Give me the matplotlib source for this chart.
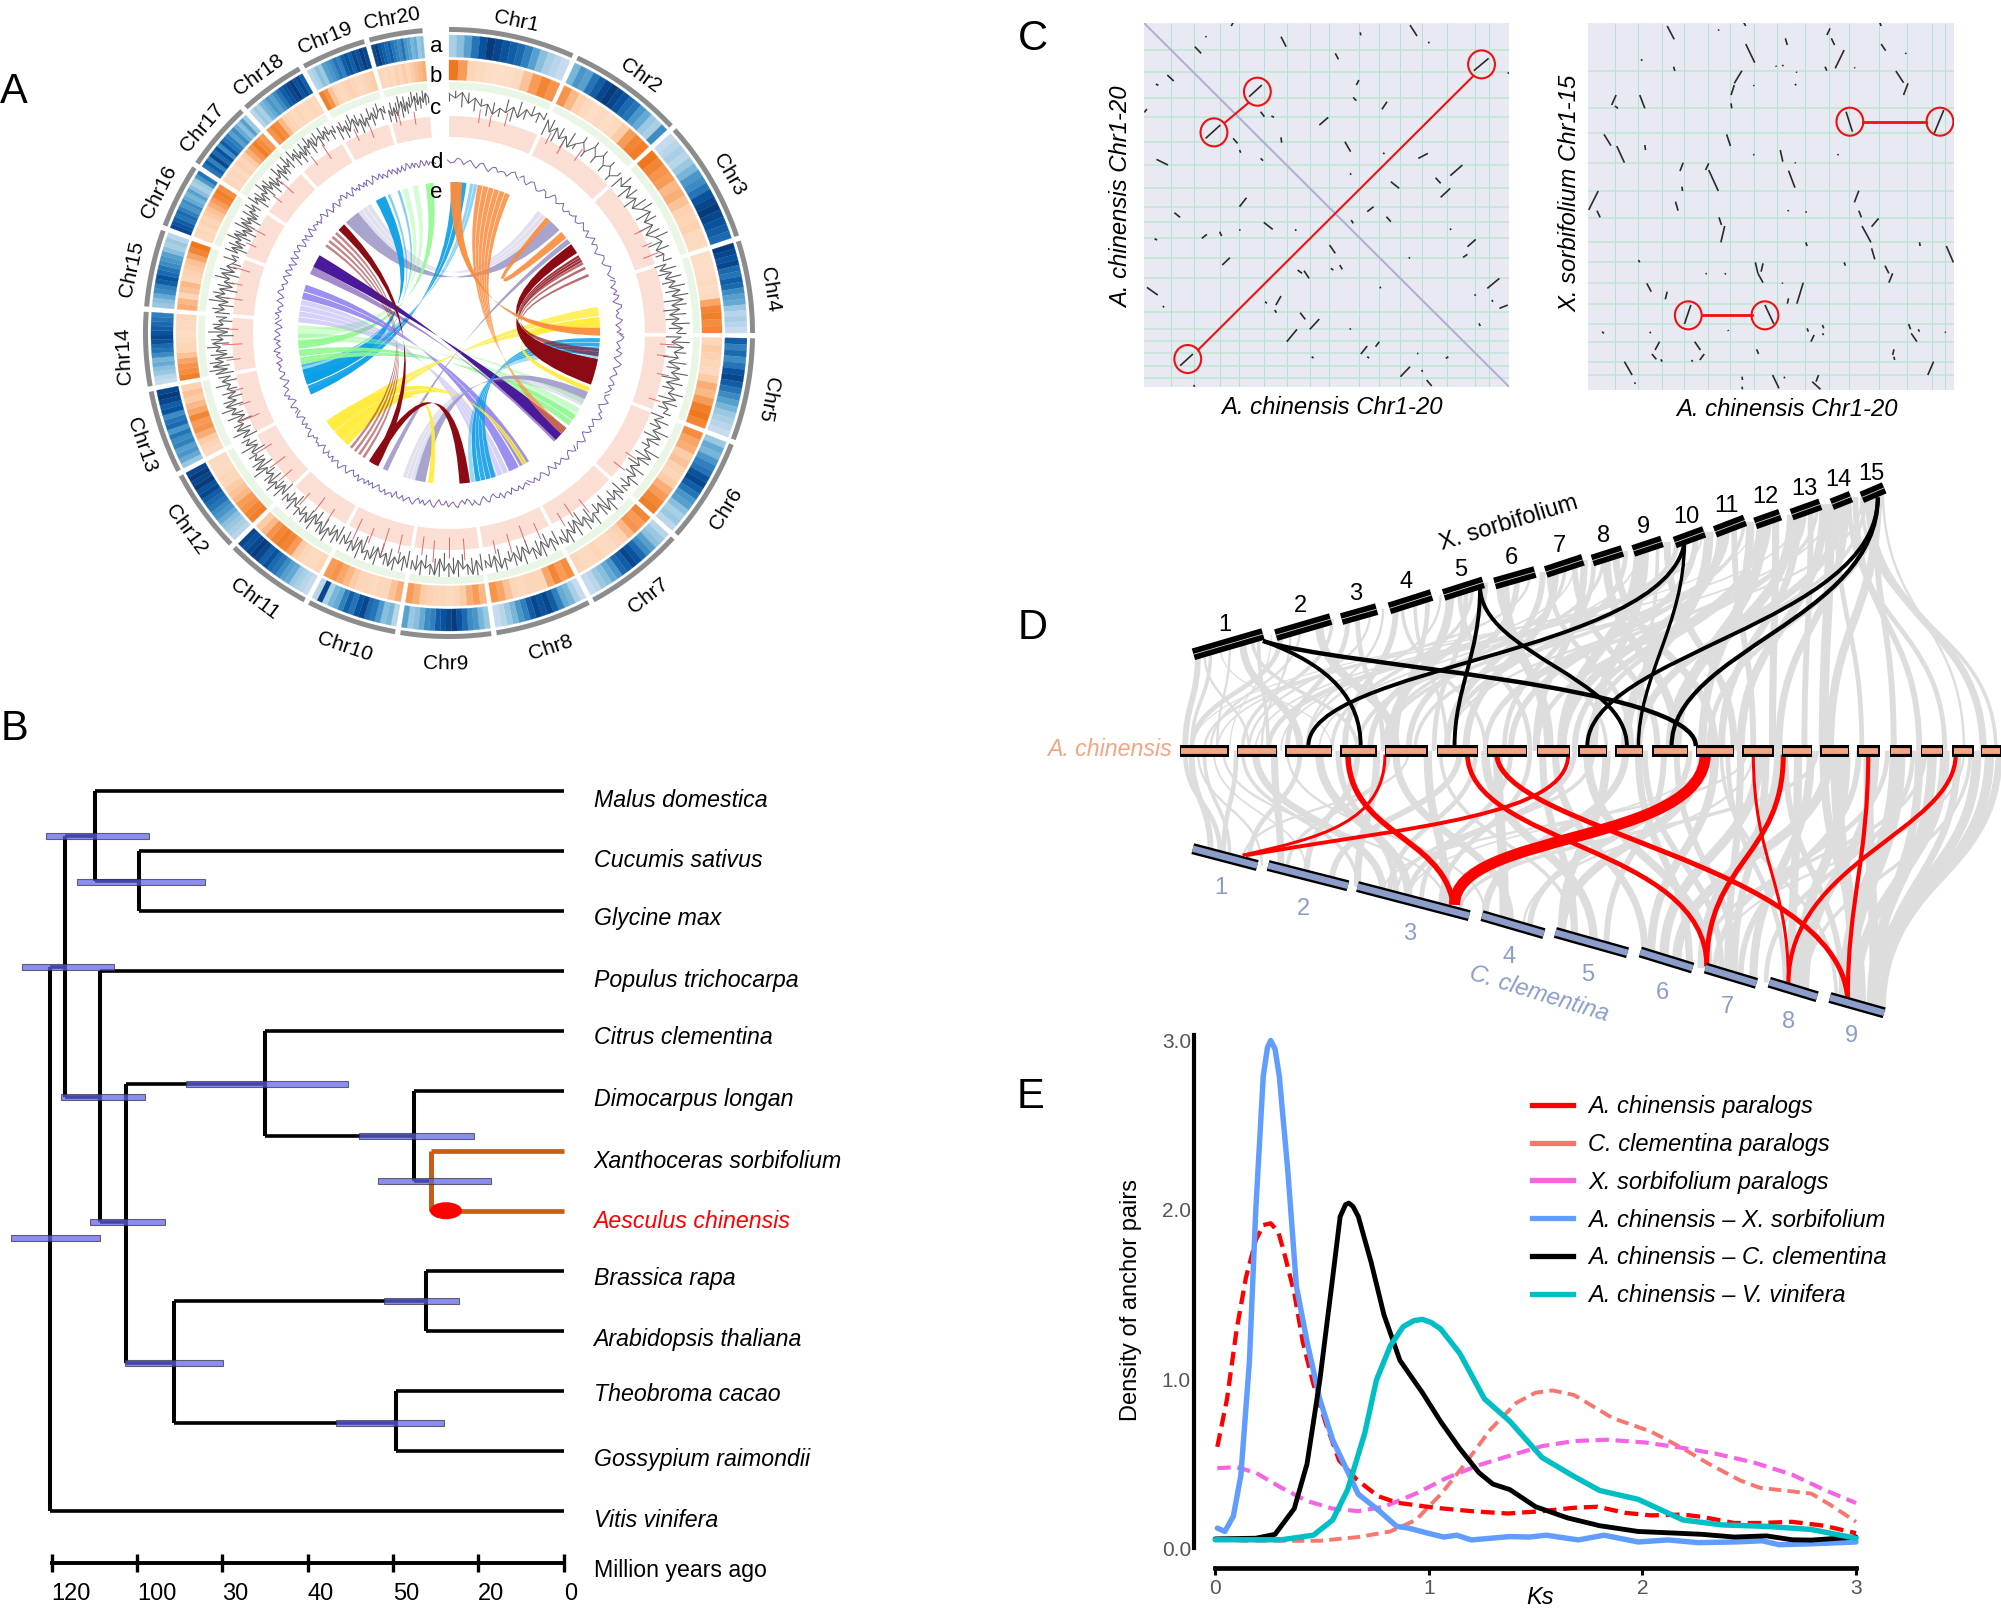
import numpy as np
import matplotlib
matplotlib.use("Agg")
import matplotlib.pyplot as plt
from matplotlib.collections import LineCollection, PolyCollection
from matplotlib.colors import LinearSegmentedColormap
from matplotlib.lines import Line2D
from matplotlib.patches import Ellipse, PathPatch, Rectangle
from matplotlib.path import Path

plt.rcParams['font.family'] = ['Liberation Sans', 'DejaVu Sans']

W, H = 2001, 1613

# ---------- panel A: circos ----------
chr_names = ["Chr%d" % i for i in range(1, 21)]
chr_start = [0, 25, 48, 72.4, 91, 111.5, 132.5, 152.6, 172, 190.2, 208.4, 226, 243, 259.9, 275, 290.7, 304, 318, 331.5, 344.8]
chr_end = [24, 47, 71.4, 90, 110.5, 131.5, 151.6, 171, 189.2, 207.4, 225, 242, 258.9, 274, 289.7, 303, 317, 330.5, 343.8, 355]

blue_ring = [
    [.25, .35, .5, .7, .85, .95, .9, .85, .8, .75, .65, .5, .35, .25, .2, .15],
    [.4, .55, .5, .7, .8, .9, .95, .9, .85, .75, .7, .55, .45, .3, .25, .6],
    [.15, .2, .25, .2, .3, .4, .55, .6, .7, .85, .9, .95, .9, .85, .8, .75],
    [.95, .9, .85, .9, .75, .7, .8, .75, .6, .5, .45, .3, .2, .25, .2, .15],
    [.8, .65, .75, .6, .7, .85, .9, .8, .7, .6, .5, .4, .3, .25, .2, .15],
    [.3, .45, .4, .55, .65, .7, .85, .9, .8, .7, .55, .5, .35, .25, .3, .2],
    [.2, .3, .35, .5, .6, .75, .85, .9, .8, .75, .55, .45, .35, .3, .2, .15],
    [.15, .25, .4, .45, .65, .8, .9, .85, .9, .8, .65, .55, .4, .3, .2, .15],
    [.3, .4, .55, .6, .75, .85, .95, .9, .85, .8, .65, .6, .45, .35, .3, .5],
    [.2, .4, .35, .55, .7, .75, .9, .85, .7, .8, .65, .45, .4, .25, .9, .2],
    [.15, .2, .25, .3, .45, .5, .6, .7, .75, .85, .8, .9, .95, .9, .85, .9],
    [.2, .25, .3, .35, .45, .55, .6, .7, .75, .8, .9, .85, .95, .9, .95, .9],
    [.3, .45, .55, .5, .65, .6, .7, .55, .75, .7, .6, .85, .8, .9, .95, .9],
    [.15, .2, .3, .35, .45, .4, .6, .7, .75, .85, .9, .85, .8, .75, .7, .65],
    [.3, .35, .45, .6, .65, .8, .85, .75, .7, .6, .55, .5, .35, .25, .3, .2],
    [.9, .85, .8, .7, .75, .65, .55, .6, .45, .4, .5, .35, .25, .3, .55, .7],
    [.7, .8, .65, .9, .75, .85, .6, .8, .7, .65, .5, .6, .45, .35, .5, .3],
    [.2, .3, .25, .4, .45, .55, .5, .6, .7, .8, .85, .9, .95, .85, .9, .8],
    [.2, .25, .35, .3, .5, .55, .6, .7, .65, .8, .85, .8, .9, .85, .95, .9],
    [.9, .95, .85, .8, .75, .8, .7, .65, .6, .7, .55, .5, .4, .45, .3, .35],
]
orange_ring = [
    [.8, .55, .2, .15, .12, .1, .12, .15, .35, .55, .7, .6],
    [.6, .4, .25, .15, .12, .15, .12, .15, .3, .55, .7, .75],
    [.8, .7, .6, .55, .4, .45, .35, .25, .2, .25, .15, .15],
    [.12, .12, .1, .12, .15, .12, .15, .5, .7, .75, .65, .7],
    [.2, .3, .25, .2, .15, .3, .45, .4, .55, .75, .8, .7],
    [.65, .5, .45, .3, .35, .25, .2, .3, .45, .55, .7, .75],
    [.7, .55, .6, .4, .25, .2, .15, .15, .2, .15, .15, .2],
    [.65, .55, .7, .5, .2, .2, .2, .15, .2, .35, .5, .6],
    [.4, .55, .45, .3, .2, .15, .2, .2, .25, .3, .45, .55],
    [.45, .35, .2, .2, .15, .2, .2, .3, .4, .5, .6, .55],
    [.2, .15, .15, .2, .3, .55, .7, .75, .7, .6, .4, .3],
    [.75, .7, .6, .55, .4, .35, .3, .2, .2, .15, .15, .15],
    [.15, .2, .3, .45, .6, .55, .7, .5, .4, .3, .35, .25],
    [.75, .65, .6, .5, .35, .2, .2, .15, .12, .15, .15, .2],
    [.45, .4, .2, .35, .4, .2, .25, .3, .35, .5, .7, .8],
    [.15, .2, .15, .25, .2, .3, .35, .45, .55, .7, .75, .65],
    [.2, .15, .2, .15, .25, .2, .3, .45, .6, .75, .65, .55],
    [.6, .7, .65, .4, .25, .2, .15, .2, .15, .15, .2, .15],
    [.75, .6, .35, .2, .15, .2, .25, .2, .15, .2, .25, .3],
    [.2, .15, .2, .15, .25, .2, .3, .2, .3, .35, .4, .45],
]
gray_track = [
    [.85, .7, .9, .55, .75, .5, .6, .3, .55, .45, .7, .4, .75, .6, .8, .65],
    [.7, .35, .6, .3, .5, .2, .45, .65, .4, .75, .5, .7, .45, .6, .35, .55],
    [.6, .4, .65, .3, .55, .25, .5, .7, .35, .55, .2, .45, .6, .3, .5, .4],
    [.45, .2, .55, .3, .6, .35, .7, .4, .75, .35, .6, .25, .55, .3, .65, .45],
    [.6, .3, .7, .4, .55, .25, .65, .4, .7, .3, .6, .45, .75, .35, .6, .5],
    [.55, .3, .6, .4, .75, .35, .55, .45, .8, .4, .6, .35, .7, .5, .75, .55],
    [.75, .45, .7, .5, .85, .4, .65, .55, .8, .45, .7, .35, .75, .5, .9, .6],
    [.8, .5, .75, .45, .9, .55, .7, .4, .85, .5, .75, .6, .9, .45, .8, .55],
    [.85, .5, .95, .6, .75, .45, .9, .55, .8, .4, .95, .6, .75, .5, .85, .55],
    [.8, .45, .75, .55, .9, .5, .7, .4, .85, .6, .75, .35, .8, .5, .7, .45],
    [.75, .4, .7, .5, .85, .45, .65, .35, .8, .5, .7, .55, .6, .35, .65, .45],
    [.6, .3, .65, .45, .7, .35, .55, .4, .75, .3, .6, .45, .55, .25, .6, .4],
    [.55, .25, .65, .35, .5, .2, .6, .4, .7, .3, .55, .25, .5, .35, .6, .3],
    [.75, .35, .8, .45, .7, .3, .65, .5, .75, .4, .6, .25, .7, .4, .55, .3],
    [.7, .4, .6, .3, .75, .45, .65, .25, .55, .4, .7, .3, .6, .45, .35, .55],
    [.4, .65, .3, .6, .45, .75, .35, .55, .25, .7, .4, .6, .3, .65, .5, .7],
    [.55, .75, .4, .65, .5, .8, .45, .7, .35, .6, .5, .75, .45, .7, .55, .8],
    [.6, .8, .5, .7, .45, .75, .6, .85, .5, .65, .75, .55, .8, .6, .7, .55],
    [.7, .45, .6, .35, .55, .7, .4, .6, .3, .55, .45, .65, .4, .6, .7, .5],
    [.55, .35, .6, .3, .55, .75, .4, .7, .5, .65, .85, .55, .8, .6, .9, .75],
]
# far end of the short spikes on the same track
gray_track_b = [
    [.6, .95, .4, .9, .3, .75, .2, .7, .25, .9, .2, .95, .4, .95, .45, .9],
    [.15, .8, .1, .7, .05, .75, .25, .85, .2, .95, .25, .9, .2, .8, .15, .7],
    [.15, .85, .1, .75, .05, .8, .9, .15, .8, .05, .7, .9, .1, .75, .2, .7],
    [.05, .75, .1, .85, .15, .9, .2, .95, .1, .85, .05, .8, .1, .9, .2, .75],
    [.1, .9, .15, .8, .05, .85, .2, .95, .1, .85, .2, .95, .15, .85, .25, .75],
    [.1, .8, .2, .95, .15, .8, .25, 1, .2, .85, .15, .9, .3, .95, .35, .8],
    [.25, .9, .3, 1, .2, .9, .3, 1, .25, .95, .15, .95, .3, 1, .4, .85],
    [.3, .95, .25, 1, .35, .95, .2, 1, .3, .95, .4, 1, .25, 1, .35, .8],
    [.3, 1, .4, .95, .25, 1, .35, 1, .2, 1, .4, .95, .3, 1, .35, .85],
    [.25, .95, .35, 1, .3, .9, .2, 1, .4, .95, .15, 1, .3, .9, .25, .8],
    [.2, .9, .3, 1, .25, .85, .15, .95, .3, .9, .35, .85, .15, .85, .25, .75],
    [.1, .85, .25, .9, .15, .75, .2, .95, .1, .8, .25, .75, .05, .85, .2, .7],
    [.05, .85, .15, .7, 0, .8, .2, .9, .1, .75, .05, .7, .15, .85, .1, .7],
    [.15, .95, .25, .9, .1, .85, .3, .95, .2, .8, .05, .9, .2, .75, .1, .65],
    [.2, .8, .1, .95, .25, .85, .05, .75, .2, .9, .1, .8, .25, .15, .8, .3],
    [.85, .1, .8, .25, .95, .15, .75, .05, .9, .2, .8, .1, .85, .3, .9, .35],
    [.95, .2, .85, .3, 1, .25, .9, .15, .8, .3, .95, .25, .9, .35, 1, .4],
    [1, .3, .9, .25, .95, .4, 1, .3, .85, .95, .35, 1, .4, .9, .35, .8],
    [.2, .8, .15, .75, .9, .2, .8, .1, .75, .25, .85, .2, .8, .9, .3, .75],
    [.15, .8, .1, .75, .95, .2, .9, .3, .85, 1, .35, .95, .4, 1, .5, .55],
]
purple_track = [
    [173, 171, 174, 172, 170, 172, 169, 171, 168, 170, 172, 170],
    [171, 169, 172, 170, 168, 171, 169, 172, 170, 168, 171, 170],
    [172, 169, 171, 173, 170, 168, 171, 169, 172, 170, 173, 171],
    [170, 173, 171, 169, 172, 170, 174, 171, 169, 172, 170, 168],
    [171, 173, 170, 168, 172, 170, 173, 171, 169, 171, 168, 170],
    [172, 169, 171, 168, 170, 173, 170, 168, 171, 169, 172, 170],
    [168, 171, 169, 172, 170, 167, 170, 172, 169, 171, 168, 170],
    [172, 170, 168, 171, 173, 170, 168, 171, 169, 172, 170, 173],
    [171, 169, 172, 170, 173, 171, 168, 172, 170, 173, 171, 169],
    [172, 170, 173, 171, 169, 172, 174, 171, 169, 172, 170, 168],
    [171, 173, 170, 168, 171, 169, 172, 170, 173, 171, 169, 172],
    [170, 172, 169, 171, 168, 170, 173, 170, 168, 171, 169, 172],
    [173, 170, 172, 169, 171, 174, 171, 169, 172, 170, 173, 171],
    [172, 169, 173, 170, 174, 171, 169, 173, 170, 172, 169, 171],
    [174, 171, 169, 172, 170, 173, 171, 175, 172, 170, 173, 171],
    [170, 173, 171, 169, 172, 170, 173, 171, 174, 171, 169, 172],
    [171, 169, 172, 170, 173, 170, 168, 171, 173, 170, 172, 169],
    [170, 172, 169, 171, 174, 171, 169, 172, 170, 168, 171, 173],
    [170, 172, 169, 173, 171, 168, 170, 172, 169, 171, 173, 170],
    [172, 170, 173, 171, 169, 172, 170, 173, 171, 169, 172, 171],
]
purple_track_b = [
    [170, 175, 169, 174, 167, 173, 166, 172, 170, 167, 174, 168],
    [174, 167, 173, 167, 172, 166, 174, 168, 173, 167, 169, 173],
    [168, 174, 169, 167, 174, 172, 166, 173, 168, 175, 169, 174],
    [174, 168, 173, 174, 167, 175, 169, 168, 174, 167, 172, 174],
    [175, 168, 172, 174, 167, 175, 168, 173, 167, 173, 172, 167],
    [168, 174, 166, 172, 175, 167, 172, 173, 166, 174, 168, 173],
    [173, 167, 174, 168, 172, 173, 166, 174, 167, 173, 172, 167],
    [168, 173, 172, 167, 169, 174, 172, 167, 174, 167, 175, 169],
    [174, 167, 168, 175, 169, 174, 172, 167, 175, 168, 174, 173],
    [168, 175, 169, 174, 173, 167, 170, 174, 173, 167, 173, 172],
    [168, 169, 174, 172, 167, 174, 168, 175, 169, 174, 173, 168],
    [174, 167, 173, 172, 171, 175, 168, 172, 173, 167, 174, 168],
    [169, 175, 167, 174, 176, 170, 174, 167, 175, 169, 174, 173],
    [175, 170, 174, 176, 169, 173, 175, 169, 174, 167, 174, 168],
    [171, 175, 173, 168, 175, 169, 176, 171, 174, 169, 175, 168],
    [175, 169, 174, 167, 175, 168, 175, 170, 175, 167, 174, 168],
    [174, 167, 175, 168, 172, 173, 171, 175, 168, 174, 167, 172],
    [174, 167, 173, 175, 169, 174, 167, 175, 172, 174, 169, 168],
    [174, 167, 175, 169, 174, 172, 167, 174, 173, 167, 168, 174],
    [168, 175, 169, 174, 173, 168, 175, 169, 174, 172, 169, 170],
]
red_spike_angle = [8, 11, 15, 27, 31, 36, 62, 66, 69, 93, 96, 101, 108, 124, 128, 142, 146, 149,
                   156, 160, 164, 168, 176, 180, 184, 187, 193, 197, 201, 205, 213, 217, 221, 229,
                   233, 238, 247, 251, 255, 263, 267, 271, 279, 283, 287, 294, 298, 308, 312, 322,
                   326, 335, 339, 347, 351]
red_spike_base = [212, 210, 214, 212, 209, 213, 210, 212, 208, 211, 209, 212, 210, 213, 209, 211, 206, 210,
                  208, 205, 209, 212, 206, 204, 208, 205, 207, 204, 209, 205, 210, 206, 212, 208,
                  205, 209, 206, 210, 213, 210, 207, 211, 209, 212, 208, 211, 208, 212, 209, 213,
                  210, 212, 209, 213, 211]
red_spike_top = [226, 222, 228, 225, 222, 227, 224, 222, 224, 226, 221, 224, 222, 226, 223, 228, 222, 225,
                 226, 224, 229, 226, 228, 225, 230, 224, 226, 229, 225, 228, 227, 224, 228, 226,
                 224, 228, 226, 222, 226, 224, 227, 222, 225, 223, 226, 222, 225, 223, 226, 224,
                 227, 225, 222, 226, 224]

# ribbons: (start of a, end of a, start of b, end of b), colour, opacity, strands
ribbon_ends = [
    (323, 329, 36, 42), (317, 323, 42, 47),
    (340, 341, 257, 258), (336, 337, 246, 248), (331, 335, 250, 256),
    (8, 11, 254, 258), (1, 7, 246, 254),
    (342, 344, 268, 270), (346, 348, 270, 272), (351, 354, 264, 267),
    (266, 270, 120, 125), (272, 273, 116, 118), (258, 264, 123, 128),
    (274, 283, 157, 166), (283, 289, 148, 157),
    (293, 296, 134, 136), (296, 301, 129, 135),
    (193, 198, 116, 119), (189, 193, 113, 116), (204, 206, 51.5, 53.5),
    (99, 102, 168, 172), (92, 99, 162, 170),
    (224, 235, 149, 151), (226, 234, 80, 88), (186, 188, 222, 224), (111, 113, 84, 88),
    (305, 306, 214, 215), (307, 308, 216, 217), (309, 310, 218, 219), (311, 312, 220, 221),
    (313, 316, 208, 211), (209, 212, 172, 176),
    (54, 58, 100, 110), (59, 62, 100, 104), (62, 63, 98, 99), (64, 65, 97, 98), (67, 68, 96, 97),
    (0.5, 5, 88, 91), (11, 24, 129, 132), (40, 42, 48, 51),
]
ribbon_colors = [
    "lav", "lav", "sky", "sky", "sky", "sky", "sky",
    "grn", "grn", "grn", "grn", "grn", "grn",
    "vio", "vio", "ind", "ind", "lav", "lav", "lav",
    "sky", "sky", "yel", "yel", "yel", "yel",
    "red", "red", "red", "red", "red", "red", "red", "red", "red", "red", "red",
    "org", "org", "org",
]
ribbon_alpha = [
    .3, .9, .5, .5, .95, .45, .9,
    .4, .4, .9, .5, .4, .9,
    .35, .85, .5, 1, .3, .9, .9,
    .4, .85, .9, .8, .95, .9,
    .5, .5, .5, .5, 1, 1, 1, .85, .6, .6, .6,
    .95, .85, .9,
]
ribbon_strands = [
    3, 1, 1, 1, 1, 2, 2,
    1, 1, 1, 2, 1, 2,
    4, 2, 1, 1, 3, 1, 1,
    2, 4, 2, 2, 1, 1,
    1, 1, 1, 1, 1, 1, 1, 3, 1, 1, 1,
    1, 6, 1,
]
palette = {"lav": "#9e9ac8", "sky": "#0a9fe6", "grn": "#90f890", "vio": "#8a7cf0", "ind": "#4a1a9a",
           "yel": "#ffec3c", "red": "#8b0a14", "org": "#fb8c3c"}

ring_letters = ["a", "b", "c", "d", "e"]
ring_letter_r = [287, 257, 225, 171, 141]

# ---------- panel B: tree ----------
species = ["Malus domestica", "Cucumis sativus", "Glycine max", "Populus trichocarpa", "Citrus clementina",
           "Dimocarpus longan", "Xanthoceras sorbifolium", "Aesculus chinensis", "Brassica rapa",
           "Arabidopsis thaliana", "Theobroma cacao", "Gossypium raimondii", "Vitis vinifera"]
species_row = [.16, 1.17, 2.13, 3.17, 4.11, 5.14, 6.18, 7.18, 8.13, 9.15, 10.07, 11.14, 12.16]
# horizontal branches: row, old age, young age
branch_row = [0, 1, 2, 3, 4, 5, 8, 9, 10, 11, 12, .75, 1.5, 5.1, 7.19, 4.89, 5.75, 6.5, 9.53, 8.5, 10.53, 2.93]
branch_old = [109.9, 99.6, 99.6, 108.6, 70.1, 35.1, 32.2, 32.2, 39.4, 39.4, 120.3, 116.9, 109.9, 116.9, 108.6,
              102.6, 70.1, 35.1, 102.6, 91.3, 91.3, 120.3]
branch_young = [0, 0, 0, 0, 0, 0, 0, 0, 0, 0, 0, 109.9, 99.6, 108.6, 102.6, 70.1, 35.1, 31.2, 91.3, 32.2, 39.4, 116.9]
# vertical branches: age, top row, bottom row
node_age = [109.9, 99.6, 116.9, 108.6, 102.6, 70.1, 35.1, 91.3, 32.2, 39.4, 120.3]
node_top = [0, 1, .75, 3, 4.89, 4, 5, 8.5, 8, 10, 2.93]
node_bottom = [1.5, 2, 5.1, 7.19, 9.53, 5.75, 6.5, 10.53, 9, 11, 12]
# the two highlighted tips
hl_age = 31.2
hl_rows = [6, 7]
marker_age = 27.6
# age intervals
ci_row = [.75, 1.52, 2.93, 5.10, 4.895, 5.76, 6.5, 7.19, 7.46, 8.5, 9.53, 10.53]
ci_old = [121.4, 114, 127, 117.7, 88.4, 48, 43.6, 110.9, 129.6, 42, 102.8, 53.4]
ci_young = [97.1, 84.1, 105.5, 98.2, 50.5, 21, 17, 93.4, 108.6, 24.5, 79.9, 28]
age_ticks = [120, 100, 80, 60, 40, 20, 0]
age_tick_labels = ["120", "100", "30", "40", "50", "20", "0"]

# ---------- panel C: dot plots (positions along concatenated chromosomes) ----------
dot1_v = [267, 303, 344, 375, 413, 449, 485, 515, 562, 594, 627, 660, 700, 743, 765]
dot1_h = [150, 217, 293, 352, 426, 495, 565, 620, 667, 715, 773, 835, 937, 986, 1023, 1060, 1099, 1133]
dot1_blocks = [
    (362, 78, 365, 68), (305, 140, 315, 160), (440, 110, 448, 140), (642, 75, 653, 108), (525, 160, 530, 178),
    (262, 225, 272, 243), (558, 255, 562, 240), (553, 292, 558, 302), (598, 328, 606, 305), (226, 337, 230, 327),
    (408, 335, 414, 350), (425, 348, 429, 352), (500, 375, 514, 352), (540, 425, 549, 455), (245, 478, 263, 495),
    (655, 475, 670, 460), (705, 527, 724, 495), (612, 545, 625, 565), (682, 533, 690, 550), (690, 592, 705, 565),
    (375, 620, 386, 593), (273, 638, 282, 652), (575, 635, 585, 620), (413, 667, 427, 688), (316, 715, 324, 703),
    (344, 695, 347, 708), (732, 740, 745, 718), (725, 772, 732, 763), (516, 735, 525, 760), (348, 795, 360, 773),
    (466, 810, 473, 820), (476, 812, 484, 835), (532, 795, 536, 808), (230, 862, 247, 885), (763, 865, 782, 835),
    (432, 915, 440, 888), (470, 938, 478, 958), (485, 988, 500, 957), (449, 1025, 465, 988), (565, 1062, 575, 1038),
    (588, 1040, 594, 1025), (627, 1130, 642, 1100), (668, 1140, 676, 1158), (605, 650, 612, 665), (550, 660, 553, 670),
    (415, 905, 418, 910), (430, 930, 433, 938), (782, 925, 795, 915), (698, 1075, 702, 1070), (488, 1070, 491, 1074),
    (653, 1060, 655, 1061), (518, 805, 522, 810), (365, 415, 372, 430), (322, 108, 323, 112), (244, 252, 248, 256),
    (564, 97, 565, 106), (671, 125, 672, 130), (795, 217, 797, 221), (408, 475, 412, 482), (440, 412, 441, 428),
    (375, 450, 377, 458), (242, 716, 246, 720), (548, 520, 550, 524), (600, 458, 602, 462), (375, 688, 376, 692),
    (462, 688, 464, 692), (705, 685, 706, 690), (640, 772, 642, 775), (595, 860, 596, 865), (255, 918, 257, 922),
    (743, 883, 745, 887), (770, 900, 772, 905), (750, 970, 752, 978), (548, 985, 549, 989), (303, 1155, 305, 1160),
    (575, 1070, 578, 1074), (660, 1110, 662, 1115),
    (282, 1097, 302, 1062), (322, 415, 345, 375), (390, 290, 410, 255), (742, 212, 765, 175),
]
dot1_ring_x = [294, 335, 403, 754]
dot1_ring_y = [1077, 397, 275, 193]
dot1_link = [(310, 1050, 740, 230), (352, 368, 388, 310)]

dot2_v = [964, 1000, 1037, 1071, 1109, 1143, 1181, 1217, 1260, 1298, 1330, 1377, 1420, 1460, 1480]
dot2_h = [213, 325, 398, 488, 573, 653, 727, 787, 848, 911, 973, 1025, 1085, 1125]
dot2_blocks = [
    (1045, 78, 1056, 118), (1165, 68, 1168, 78), (1125, 88, 1126, 92), (1230, 115, 1233, 135), (1295, 105, 1300, 85),
    (1302, 115, 1307, 135), (1378, 68, 1380, 78), (1380, 132, 1387, 152), (1168, 132, 1182, 188), (1322, 150, 1308, 205),
    (1292, 200, 1295, 212), (1055, 200, 1057, 213), (1004, 178, 1006, 182), (1150, 250, 1162, 212), (1145, 285, 1150, 255),
    (1403, 213, 1415, 248), (1415, 285, 1422, 250), (958, 315, 965, 285), (1002, 285, 1010, 325), (963, 318, 968, 325),
    (1145, 310, 1146, 325), (946, 403, 957, 437), (966, 438, 978, 488), (1010, 435, 1011, 450), (1138, 403, 1144, 438),
    (1222, 450, 1226, 485), (1065, 513, 1070, 488), (1105, 510, 1110, 490), (1110, 510, 1125, 573), (1235, 512, 1245, 563),
    (922, 630, 937, 573), (935, 632, 940, 652), (1068, 560, 1069, 573), (1058, 605, 1062, 632), (1345, 572, 1338, 607),
    (1345, 632, 1349, 652), (1365, 680, 1376, 655), (1126, 652, 1130, 675), (1135, 678, 1129, 727), (1350, 678, 1364, 727),
    (1262, 727, 1264, 738), (1440, 727, 1441, 738), (1482, 738, 1493, 787), (1365, 745, 1370, 778), (1000, 780, 1002, 787),
    (1322, 787, 1324, 797), (1183, 787, 1187, 820), (1195, 790, 1192, 815), (1187, 820, 1195, 848), (1386, 797, 1392, 820),
    (1398, 820, 1392, 848), (1013, 850, 1020, 875), (1045, 875, 1042, 898), (1258, 848, 1248, 911), (1235, 895, 1233, 911),
    (943, 995, 946, 1000), (1018, 995, 1019, 1000), (1264, 985, 1266, 995), (1270, 1025, 1275, 1005), (1288, 975, 1290, 985),
    (1288, 1000, 1290, 1005), (1423, 972, 1426, 988), (1427, 1000, 1436, 1025), (1438, 988, 1440, 995), (1033, 1025, 1026, 1050),
    (1088, 1025, 1097, 1050), (1021, 1062, 1028, 1078), (1035, 1078, 1037, 1085), (1103, 1062, 1096, 1080), (1083, 1080, 1085, 1085),
    (1185, 1048, 1188, 1062), (1400, 1048, 1398, 1065), (1400, 1070, 1401, 1080), (978, 1085, 990, 1125), (1462, 1085, 1453, 1125),
    (1162, 1130, 1163, 1140), (1210, 1125, 1220, 1165), (1228, 1130, 1229, 1135), (1282, 1125, 1278, 1145), (1272, 1145, 1285, 1168),
    (1162, 1160, 1163, 1168), (994, 1147, 995, 1152), (1105, 820, 1107, 822), (1135, 820, 1137, 823), (1234, 630, 1235, 634),
    (1262, 634, 1263, 638), (1180, 462, 1181, 466), (1312, 462, 1313, 466), (1245, 487, 1246, 490), (1225, 195, 1227, 198),
    (1215, 197, 1216, 200), (1338, 202, 1339, 205), (1418, 158, 1419, 162), (1247, 215, 1248, 218), (1245, 252, 1247, 256),
    (1180, 255, 1181, 258), (1140, 990, 1141, 993), (1480, 995, 1481, 998), (1225, 848, 1226, 851),
    (1325, 335, 1335, 395), (1463, 400, 1478, 330), (1072, 972, 1082, 915), (1198, 915, 1212, 972),
]
dot2_ring_x = [1331, 1472, 1078, 1198]
dot2_ring_y = [365, 365, 946, 946]
dot2_link = [(1352, 366, 1450, 366), (1100, 946, 1178, 946)]

# ---------- panel D: synteny ----------
xs_bars = [(303, 560, 412, 507), (432, 510, 518, 468), (535, 468, 590, 442), (610, 440, 676, 405), (695, 405, 757, 372),
           (775, 375, 838, 345), (855, 345, 913, 313), (928, 315, 975, 290), (992, 290, 1037, 265), (1057, 268, 1103, 240),
           (1120, 240, 1167, 210), (1183, 218, 1222, 195), (1240, 195, 1285, 168), (1303, 168, 1333, 148), (1350, 150, 1385, 125)]
xs_label_x = [352, 470, 557, 636, 721, 801, 877, 945, 1008, 1075, 1138, 1199, 1260, 1313, 1365]
xs_label_y = [483, 435, 402, 372, 340, 308, 277, 250, 228, 200, 172, 150, 127, 105, 88]
ac_start = [282, 371, 447, 533, 603, 684, 763, 841, 906, 964, 1022, 1090, 1163, 1225, 1285, 1343, 1394, 1443, 1492, 1536]
ac_end = [358, 434, 520, 590, 670, 749, 826, 893, 951, 1007, 1078, 1150, 1212, 1272, 1330, 1378, 1428, 1477, 1525, 1568]
cc_bars = [(302, 1068, 403, 1112), (420, 1112, 545, 1165), (560, 1167, 735, 1243), (755, 1243, 852, 1290), (870, 1287, 983, 1340),
           (1003, 1338, 1085, 1380), (1105, 1380, 1185, 1420), (1205, 1417, 1280, 1455), (1300, 1457, 1385, 1497)]
cc_label_x = [346, 476, 642, 797, 921, 1038, 1139, 1236, 1333]
cc_label_y = [1172, 1225, 1290, 1352, 1397, 1445, 1482, 1522, 1557]
# gray links: x on X. sorbifolium, x on A. chinensis, width
gray_top = [(310, 290, 5), (330, 300, 3), (360, 340, 2), (380, 470, 6), (405, 420, 3), (440, 300, 4), (470, 330, 2), (500, 620, 7),
            (545, 450, 4), (580, 390, 2), (620, 540, 5), (650, 700, 3), (705, 610, 7), (720, 830, 4), (740, 520, 3), (790, 860, 8),
            (810, 640, 5), (830, 320, 2), (870, 730, 6), (900, 1030, 5), (930, 790, 4), (945, 560, 3), (965, 1120, 6), (1010, 930, 7),
            (1030, 1000, 3), (1060, 420, 4), (1090, 800, 5), (1130, 880, 7), (1150, 1180, 5), (1165, 650, 3), (1195, 1060, 8),
            (1205, 920, 4), (1250, 1130, 6), (1270, 1260, 5), (1280, 760, 3), (1310, 1350, 4), (1320, 1000, 6), (1330, 1480, 4),
            (1360, 1540, 6), (1370, 1400, 5), (1380, 1110, 4), (1350, 1560, 3),
            (320, 390, 2), (345, 520, 1), (395, 560, 3), (425, 360, 1), (455, 410, 2), (520, 380, 3), (560, 600, 4), (600, 480, 2),
            (630, 760, 3), (670, 620, 4), (690, 480, 2), (730, 680, 4), (760, 580, 5), (780, 950, 3), (850, 700, 5), (860, 990, 4),
            (885, 600, 3), (915, 840, 6), (950, 1060, 7), (980, 700, 4), (1000, 880, 8), (1045, 1150, 6), (1075, 600, 3), (1110, 980, 8),
            (1140, 760, 4), (1175, 1100, 7), (1190, 900, 5), (1215, 1210, 6), (1240, 1050, 8), (1260, 840, 4), (1290, 1160, 7),
            (1300, 1290, 8), (1325, 1220, 6), (1340, 1440, 5), (1355, 1000, 3), (1375, 1300, 7), (1383, 1510, 2), (1350, 700, 2),
            (1300, 560, 1.5), (1250, 400, 1.5), (1180, 300, 1), (1100, 340, 1.5), (1000, 500, 1.5), (900, 440, 1.5)]
# gray links: x on A. chinensis, x on C. clementina, width
gray_bottom = [(300, 330, 5), (320, 360, 3), (350, 700, 2), (400, 600, 6), (470, 390, 4), (500, 640, 7), (560, 480, 5), (640, 380, 2),
               (620, 800, 6), (720, 520, 5), (760, 930, 7), (800, 660, 4), (870, 1010, 6), (930, 620, 3), (920, 1110, 7), (980, 760, 6),
               (1010, 1130, 5), (1040, 950, 5), (1100, 880, 7), (1130, 1310, 3), (1190, 1040, 8), (1200, 1150, 6), (1250, 1240, 7),
               (1300, 1060, 8), (1310, 1340, 10), (1345, 1160, 5), (1370, 1260, 8), (1410, 1330, 9), (1460, 1365, 8), (1500, 1375, 6),
               (1550, 1380, 8), (1450, 1100, 3), (1520, 1260, 3), (1280, 720, 3), (1170, 600, 2),
               (290, 345, 4), (310, 410, 2), (335, 480, 1.5), (370, 350, 4), (380, 560, 3), (430, 440, 6), (450, 760, 2), (530, 620, 5),
               (590, 560, 6), (610, 450, 3), (670, 700, 7), (690, 900, 3), (745, 610, 4), (780, 790, 8), (830, 690, 4), (850, 900, 6),
               (900, 640, 4), (950, 880, 7), (1000, 1080, 6), (1060, 1150, 5), (1080, 830, 5), (1120, 1020, 7), (1140, 1230, 4),
               (1160, 1140, 6), (1220, 1100, 8), (1230, 1320, 5), (1270, 1180, 7), (1290, 1350, 7), (1325, 1250, 8), (1360, 1370, 8),
               (1390, 1120, 4), (1400, 1320, 7), (1430, 1200, 4), (1440, 1372, 7), (1480, 1340, 8), (1530, 1370, 8), (1565, 1375, 6),
               (1510, 1120, 2), (1180, 820, 2), (1110, 640, 1.5)]
# highlighted links: start, handle, handle, end
black_links = [
    [(412, 525), (520, 590), (565, 680), (565, 800)],
    [(412, 525), (520, 590), (1090, 640), (1090, 800)],
    [(752, 385), (752, 560), (712, 650), (712, 800)],
    [(752, 385), (755, 560), (982, 620), (982, 800)],
    [(1072, 270), (1040, 560), (483, 590), (483, 800)],
    [(1072, 270), (1072, 480), (1000, 620), (1000, 800)],
    [(1375, 150), (1375, 480), (920, 560), (920, 800)],
    [(1375, 150), (1375, 470), (1052, 550), (1052, 800)],
]
red_links = [
    [(545, 818), (545, 1030), (690, 1030), (710, 1210)],
    [(603, 822), (603, 1000), (500, 1040), (380, 1085)],
    [(890, 822), (890, 980), (650, 1010), (385, 1085)],
    [(732, 818), (732, 1060), (1107, 1060), (1107, 1375)],
    [(778, 818), (778, 1020), (1310, 1100), (1328, 1460)],
    [(1105, 818), (1105, 1060), (712, 1020), (712, 1215)],
    [(1180, 818), (1180, 1100), (1235, 1150), (1235, 1420)],
    [(1227, 822), (1227, 1090), (1107, 1100), (1107, 1375)],
    [(1360, 818), (1360, 1100), (1328, 1200), (1328, 1460)],
    [(1497, 822), (1497, 1020), (1235, 1100), (1235, 1420)],
]
red_link_width = [4, 2.2, 2.8, 3.4, 3.6, 8, 2.2, 3.6, 3, 3]
black_link_width = [2.8, 3.2, 2.8, 2.8, 2.8, 2.4, 2.8, 3]

# ---------- panel E: Ks density ----------
ks_red = [.01, .055, .10, .144, .19, .225, .26, .295, .32, .37, .41, .46, .52, .58, .66, .76, .85, 1.03, 1.20, 1.37, 1.53, 1.68, 1.79, 1.92, 2.04, 2.19, 2.28, 2.43, 2.55, 2.70, 2.85, 3.0]
d_red = [.60, .88, 1.29, 1.60, 1.82, 1.91, 1.92, 1.87, 1.76, 1.51, 1.22, .97, .73, .52, .41, .31, .27, .24, .22, .206, .22, .24, .246, .21, .195, .20, .186, .15, .15, .157, .134, .09]
ks_salmon = [.01, .13, .49, .67, .82, .94, 1.06, 1.17, 1.29, 1.41, 1.50, 1.58, 1.68, 1.86, 2.04, 2.19, 2.31, 2.46, 2.55, 2.79, 2.88, 3.0]
d_salmon = [.056, .045, .045, .067, .10, .168, .325, .50, .705, .86, .92, .933, .906, .77, .69, .59, .50, .40, .358, .324, .257, .157]
ks_magenta = [.01, .10, .19, .31, .43, .55, .67, .79, .94, 1.08, 1.23, 1.38, 1.53, 1.68, 1.83, 2.01, 2.19, 2.34, 2.52, 2.70, 2.85, 3.0]
d_magenta = [.474, .48, .447, .358, .28, .235, .22, .246, .324, .414, .49, .548, .604, .634, .642, .626, .593, .56, .508, .436, .347, .268]
ks_blue = [.01, .045, .085, .12, .16, .19, .225, .245, .26, .28, .30, .34, .38, .43, .49, .55, .61, .67, .76, .85, .905, .995, 1.07, 1.13, 1.20, 1.29, 1.38, 1.47, 1.55, 1.70, 1.82, 1.98, 2.12, 2.26, 2.43, 2.56, 2.64, 2.79, 3.0]
d_blue = [.12, .10, .19, .43, 1.10, 2.0, 2.79, 2.96, 3.0, 2.95, 2.79, 2.23, 1.55, 1.22, .88, .64, .48, .32, .23, .13, .12, .09, .067, .078, .05, .06, .07, .067, .078, .05, .078, .038, .05, .034, .038, .045, .022, .027, .038]
ks_black = [0, .19, .28, .37, .43, .49, .55, .585, .61, .625, .645, .67, .73, .79, .865, .97, 1.055, 1.145, 1.235, 1.30, 1.38, 1.50, 1.65, 1.80, 1.98, 2.16, 2.28, 2.43, 2.58, 2.70, 2.79, 3.0]
d_black = [.056, .06, .083, .235, .50, .995, 1.60, 1.96, 2.03, 2.04, 2.02, 1.96, 1.69, 1.38, 1.11, .92, .75, .59, .447, .38, .347, .246, .18, .134, .10, .09, .083, .067, .074, .051, .049, .067]
ks_teal = [0, .31, .46, .55, .62, .70, .755, .82, .88, .93, .97, 1.01, 1.055, 1.145, 1.26, 1.38, 1.53, 1.68, 1.80, 1.98, 2.10, 2.19, 2.37, 2.58, 2.79, 3.0]
d_teal = [.051, .051, .078, .168, .347, .68, .995, 1.197, 1.31, 1.345, 1.353, 1.335, 1.297, 1.152, .884, .75, .537, .425, .342, .29, .22, .168, .139, .13, .112, .06]
legend_labels = ["A. chinensis paralogs", "C. clementina paralogs", "X. sorbifolium paralogs",
                 "A. chinensis \u2013 X. sorbifolium", "A. chinensis \u2013 C. clementina", "A. chinensis \u2013 V. vinifera"]

fig = plt.figure(figsize=(W / 100, H / 100), dpi=100)


def px_axes(x0, y0, x1, y1):
    # axes placed by its pixel box, y counted from the top
    ax = fig.add_axes([x0 / W, 1 - y1 / H, (x1 - x0) / W, (y1 - y0) / H])
    ax.patch.set_alpha(0)
    return ax


def panel_letter(txt, x, y):
    fig.text(x / W, 1 - y / H, txt, fontsize=30, ha="center", va="center")


def polar_xy(theta, r):
    t = np.radians(theta)
    return r * np.sin(t), r * np.cos(t)


def sector(t0, t1, r0, r1):
    t = np.linspace(t0, t1, max(3, int(abs(t1 - t0) * 2) + 2))
    xo, yo = polar_xy(t, r1)
    xi, yi = polar_xy(t[::-1], r0)
    return np.column_stack([np.r_[xo, xi], np.r_[yo, yi]])


def heat_ring(ax, rows, r0, r1, cmap, lo, hi):
    polys, cols = [], []
    for i, vals in enumerate(rows):
        edges = np.linspace(chr_start[i], chr_end[i], len(vals) + 1)
        for j, v in enumerate(vals):
            polys.append(sector(edges[j], edges[j + 1], r0, r1))
            cols.append(cmap(lo + (hi - lo) * v))
    ax.add_collection(PolyCollection(polys, facecolors=cols, edgecolors=cols, linewidths=0.2))


def ribbon(ax, ends, color, alpha, strands=1, radius=151):
    a_edges = np.linspace(ends[0], ends[1], strands + 1)
    b_edges = np.linspace(ends[2], ends[3], strands + 1)
    gap = 0.12 if strands > 1 else 0
    for k in range(strands):
        da = (a_edges[k + 1] - a_edges[k]) * gap
        db = (b_edges[k + 1] - b_edges[k]) * gap
        ta = np.linspace(a_edges[k], a_edges[k + 1] - da, 8)
        tb = np.linspace(b_edges[k], b_edges[k + 1] - db, 8)
        xa, ya = polar_xy(ta, radius)
        xb, yb = polar_xy(tb[::-1], radius)
        verts = list(zip(xa, ya)) + [(0, 0), (xb[0], yb[0])] + list(zip(xb[1:], yb[1:])) + [(0, 0), (xa[0], ya[0]), (xa[0], ya[0])]
        codes = [Path.MOVETO] + [Path.LINETO] * 7 + [Path.CURVE3, Path.CURVE3] + [Path.LINETO] * 7 + [Path.CURVE3, Path.CURVE3, Path.CLOSEPOLY]
        ax.add_patch(PathPatch(Path(verts, codes), facecolor=color, edgecolor="none", alpha=alpha))


# ---------- draw A ----------
ax_a = px_axes(449 - 340, 333 - 340, 449 + 340, 333 + 340)
ax_a.set_xlim(-340, 340)
ax_a.set_ylim(-340, 340)
ax_a.axis("off")

peach = LinearSegmentedColormap.from_list("peach", ["#fde6d6", "#fcd0ae", "#f79a55", "#ee7418"])
ax_a.add_collection(PolyCollection([sector(s, e, 301, 306) for s, e in zip(chr_start, chr_end)],
                                   facecolors="#8c8c8c", edgecolors="none"))
heat_ring(ax_a, blue_ring, 276, 298, plt.cm.Blues, 0.12, 1.0)
heat_ring(ax_a, orange_ring, 253, 273, peach, 0.0, 1.2)
ax_a.add_collection(PolyCollection([sector(s, e, 244, 251) for s, e in zip(chr_start, chr_end)],
                                   facecolors="#e9f6e6", edgecolors="none"))
ax_a.add_collection(PolyCollection([sector(s, e, 196, 217) for s, e in zip(chr_start, chr_end)],
                                   facecolors="#fcdfd4", edgecolors="none"))

gray_sticks = []
for i in range(len(chr_names)):
    t = np.linspace(chr_start[i], chr_end[i], len(gray_track[i]))
    r_a = 214 + 30 * np.array(gray_track[i])
    r_b = 214 + 30 * np.array(gray_track_b[i])
    x, y = polar_xy(t, r_a)
    ax_a.plot(x, y, color="#5f5f5f", lw=0.7)
    for tk, ra, rb in zip(t, r_a, r_b):
        gray_sticks.append(np.column_stack(polar_xy(np.array([tk, tk]), np.array([ra, rb]))))
ax_a.add_collection(LineCollection(gray_sticks, colors="#5f5f5f", linewidths=0.8))
spikes = []
for t, b, top in zip(red_spike_angle, red_spike_base, red_spike_top):
    spikes.append(np.column_stack(polar_xy(np.array([t, t]), np.array([b, top]))))
ax_a.add_collection(LineCollection(spikes, colors="#e36a6a", linewidths=0.7))

for i in range(len(chr_names)):
    vals = np.column_stack([purple_track[i], purple_track_b[i]]).ravel()
    t = np.linspace(chr_start[i] - 0.5, chr_end[i] + 0.5, len(vals))
    x, y = polar_xy(t, vals.astype(float))
    ax_a.plot(x, y, color="#7a5fb5", lw=0.7)

for ends, c, al, n in zip(ribbon_ends, ribbon_colors, ribbon_alpha, ribbon_strands):
    ribbon(ax_a, ends, palette[c], al, n)

for i, name in enumerate(chr_names):
    mid = (chr_start[i] + chr_end[i]) / 2
    x, y = polar_xy(mid, 325)
    if mid < 115:
        rot = -mid
    elif mid < 258:
        rot = 180 - mid
    else:
        rot = 360 - mid
    ax_a.text(x, y - 6, name, fontsize=15, rotation=rot, ha="center", va="center", rotation_mode="anchor")
for lab, r in zip(ring_letters, ring_letter_r):
    ax_a.text(-13, r, lab, fontsize=16, ha="center", va="center")

# ---------- draw B ----------
row_h = 60.0
ax_b = px_axes(0, 770, 563.7, 1563)
ax_b.set_xlim(132.1, 0)
ax_b.set_ylim((1563 - 790.7) / row_h, (770 - 790.7) / row_h)
for s in ["top", "left", "right"]:
    ax_b.spines[s].set_visible(False)
ax_b.spines["bottom"].set_linewidth(2.8)
ax_b.set_yticks([])
ax_b.set_xticks(age_ticks)
ax_b.set_xticklabels(age_tick_labels, fontsize=17, ha="left")
ax_b.tick_params(axis="x", direction="inout", length=13, width=2.4, pad=8)
ax_b.spines["bottom"].set_bounds(120, 0)

ax_b.hlines(branch_row, branch_old, branch_young, color="black", lw=2.6, zorder=2, clip_on=False)
ax_b.vlines(node_age, node_top, node_bottom, color="black", lw=2.9, zorder=2, clip_on=False)
ax_b.hlines(hl_rows, hl_age, 0, color="#c55f17", lw=3.4, zorder=3, clip_on=False)
ax_b.vlines(hl_age, hl_rows[0], hl_rows[1], color="#c55f17", lw=3.6, zorder=3)
for r, o, y in zip(ci_row, ci_old, ci_young):
    ax_b.add_patch(Rectangle((o, r - 0.05), y - o, 0.1, facecolor="#5e62e8", edgecolor="#333344", lw=0.8, alpha=0.72, zorder=4))
ax_b.add_patch(Ellipse((marker_age, 7), 32 / 4.267, 17 / row_h, facecolor="#ff0000", edgecolor="none", zorder=5))
for name, r in zip(species, species_row):
    ax_b.text(-7, r, name, fontsize=16.7, style="italic", va="center", ha="left", clip_on=False,
              color="#ff0000" if name.startswith("Aesculus") else "black")
ax_b.text(-7, (1570 - 790.7) / row_h, "Million years ago", fontsize=16.7, va="center", ha="left")


# ---------- draw C ----------
def dot_plot(box, xlim, ylim, v_lines, h_lines, blocks, ring_x, ring_y, links, link_lw):
    ax = px_axes(*box)
    ax.set_xlim(*xlim)
    ax.set_ylim(*ylim)
    ax.patch.set_alpha(1)
    ax.set_facecolor("#e9e9f3")
    for s in ax.spines.values():
        s.set_visible(False)
    ax.set_xticks([])
    ax.set_yticks([])
    ax.vlines(v_lines, *ylim, color="#b4e2cc", lw=0.7)
    ax.hlines(h_lines, *xlim, color="#bfe6d2", lw=1.1)
    segs = [[(a, b), (c, d)] for a, b, c, d in blocks]
    ax.add_collection(LineCollection(segs, colors="#2a2a2a", linewidths=1.2, zorder=3))
    for x, y in zip(ring_x, ring_y):
        ax.add_patch(Ellipse((x, y), 42, 84, facecolor="none", edgecolor="#ee1111", lw=1.5, zorder=4))
    for a, b, c, d in links:
        ax.plot([a, c], [b, d], color="#ee1111", lw=link_lw, zorder=4)
    return ax


ax_c1 = dot_plot((1143.7, 22.7, 1509, 386.7), (225, 797), (1160, 68), dot1_v, dot1_h, dot1_blocks,
                 dot1_ring_x, dot1_ring_y, dot1_link, 1.5)
ax_c1.plot([225, 797], [68, 1160], color="#b4aed6", lw=1.5, zorder=2)
ax_c2 = dot_plot((1588, 22.7, 1954, 390), (921, 1494), (1170, 68), dot2_v, dot2_h, dot2_blocks,
                 dot2_ring_x, dot2_ring_y, dot2_link, 2.0)
fig.text(1332 / W, 1 - 408 / H, "A. chinensis Chr1-20", fontsize=17.2, style="italic", ha="center", va="center")
fig.text(1787 / W, 1 - 409 / H, "A. chinensis Chr1-20", fontsize=17.2, style="italic", ha="center", va="center")
fig.text(1122 / W, 1 - 197 / H, "A. chinensis Chr1-20", fontsize=17.2, style="italic", rotation=90, ha="center", va="center")
fig.text(1570 / W, 1 - 193 / H, "X. sorbifolium Chr1-15", fontsize=17.2, style="italic", rotation=90, ha="center", va="center")

# ---------- draw D ----------
ax_d = px_axes(1000, 440, 2001, 1040)
ax_d.set_xlim(0, 1568)
ax_d.set_ylim(1568, 0)
ax_d.axis("off")


def along_bars(bars, x):
    xs = [p for b in bars for p in (b[0], b[2])]
    ys = [p for b in bars for p in (b[1], b[3])]
    return np.interp(x, xs, ys)


def curve(ax, pts, color, lw, z):
    ax.add_patch(PathPatch(Path(pts, [Path.MOVETO, Path.CURVE4, Path.CURVE4, Path.CURVE4]), facecolor="none",
                           edgecolor=color, lw=lw, zorder=z, capstyle="butt", clip_on=False))


for x0, x1, w in gray_top:
    y0 = float(along_bars(xs_bars, x0))
    ym = (y0 + 812) / 2
    curve(ax_d, [(x0, y0), (x0, ym), (x1, ym), (x1, 812)], "#dddddd", w * 0.85, 1)
for x0, x1, w in gray_bottom:
    y1 = float(along_bars(cc_bars, x1))
    ym = (y1 + 812) / 2
    curve(ax_d, [(x0, 812), (x0, ym), (x1, ym), (x1, y1)], "#dddddd", w * 0.85, 1)
for pts, w in zip(black_links, black_link_width):
    curve(ax_d, pts, "black", w, 3)
for pts, w in zip(red_links, red_link_width):
    curve(ax_d, pts, "#ff0000", w, 3)

for x0, y0, x1, y1 in xs_bars:
    ax_d.plot([x0, x1], [y0, y1], color="black", lw=8.6, solid_capstyle="butt", zorder=4)
    ax_d.plot([x0, x1], [y0, y1], color="#cfcfcf", lw=0.6, zorder=5)
for x0, x1 in zip(ac_start, ac_end):
    ax_d.plot([x0, x1], [812, 812], color="black", lw=8.6, solid_capstyle="butt", zorder=4, clip_on=False)
    ax_d.plot([x0 + 2, x1 - 2], [812, 812], color="#f4a582", lw=4.2, solid_capstyle="butt", zorder=5, clip_on=False)
for x0, y0, x1, y1 in cc_bars:
    ax_d.plot([x0, x1], [y0, y1], color="black", lw=8, solid_capstyle="butt", zorder=4)
    ax_d.plot([x0, x1], [y0, y1], color="#8b9dc8", lw=4.6, solid_capstyle="butt", zorder=5)

for i, (x, y) in enumerate(zip(xs_label_x, xs_label_y)):
    ax_d.text(x, y, str(i + 1), fontsize=17, ha="center", va="center")
for i, (x, y) in enumerate(zip(cc_label_x, cc_label_y)):
    ax_d.text(x, y, str(i + 1), fontsize=17, color="#8b9dc8", ha="center", va="center", clip_on=False)
ax_d.text(797, 218, "X. sorbifolium", fontsize=17, rotation=17, ha="center", va="center")
ax_d.text(171, 810, "A. chinensis", fontsize=16.7, style="italic", color="#f4a582", ha="center", va="center")
ax_d.text(845, 1447, "C. clementina", fontsize=17, style="italic", rotation=-17, color="#8b9dc8", ha="center", va="center")

# ---------- draw E ----------
ax_e = px_axes(1215.2, 1040.5, 1856, 1548.4)
ax_e.set_xlim(0, 3)
ax_e.set_ylim(0, 3)
for s in ["top", "right"]:
    ax_e.spines[s].set_visible(False)
ax_e.spines["left"].set_position(("outward", 15.5))
ax_e.spines["bottom"].set_position(("outward", 14))
ax_e.spines["left"].set_linewidth(3)
ax_e.spines["bottom"].set_linewidth(3.4)
ax_e.spines["left"].set_bounds(0, 3.03)
ax_e.set_xticks([0, 1, 2, 3])
ax_e.set_yticks([0, 1, 2, 3])
ax_e.set_xticklabels(["0", "1", "2", "3"], fontsize=15, color="#555555")
ax_e.set_yticklabels(["0.0", "1.0", "2.0", "3.0"], fontsize=15, color="#555555")
ax_e.tick_params(axis="x", length=5, width=2.2, pad=3)
ax_e.tick_params(axis="y", length=0, pad=2)
ax_e.set_yticks([3], minor=True)
ax_e.tick_params(axis="y", which="minor", direction="in", length=4, width=1, color="#555555")

styles = {"solid_capstyle": "round", "solid_joinstyle": "round", "clip_on": False}
dash = (0, (3.2, 1.6))
ax_e.plot(ks_salmon, d_salmon, color="#f8766d", lw=2.8, ls=dash, clip_on=False)
ax_e.plot(ks_magenta, d_magenta, color="#f564e3", lw=3, ls=dash, clip_on=False)
ax_e.plot(ks_red, d_red, color="#ff0000", lw=3.1, ls=dash, clip_on=False)
ax_e.plot(ks_blue, d_blue, color="#619cff", lw=3.9, **styles)
ax_e.plot(ks_black, d_black, color="black", lw=3.5, **styles)
ax_e.plot(ks_teal, d_teal, color="#00bfc4", lw=3.9, **styles)

handles = [Line2D([], [], color=c, lw=3.8) for c in ["#ff0000", "#f8766d", "#f564e3", "#619cff", "black", "#00bfc4"]]
leg = ax_e.legend(handles, legend_labels, loc="upper left", bbox_to_anchor=(1532 / W, 1 - 1095 / H),
                  bbox_transform=fig.transFigure, frameon=False, fontsize=17, handlelength=1.75,
                  handletextpad=0.62, labelspacing=0.63, borderpad=0, borderaxespad=0)
for t in leg.get_texts():
    t.set_style("italic")
fig.text(1131 / W, 1 - 1300 / H, "Density of anchor pairs", fontsize=17, rotation=90, ha="center", va="center")
fig.text(1540 / W, 1 - 1598 / H, "Ks", fontsize=17, style="italic", ha="center", va="center")

panel_letter("A", 14, 92)
panel_letter("B", 14, 729)
panel_letter("C", 1033, 39)
panel_letter("D", 1033, 628)
panel_letter("E", 1030, 1097)

fig.savefig("out.png", dpi=100)
